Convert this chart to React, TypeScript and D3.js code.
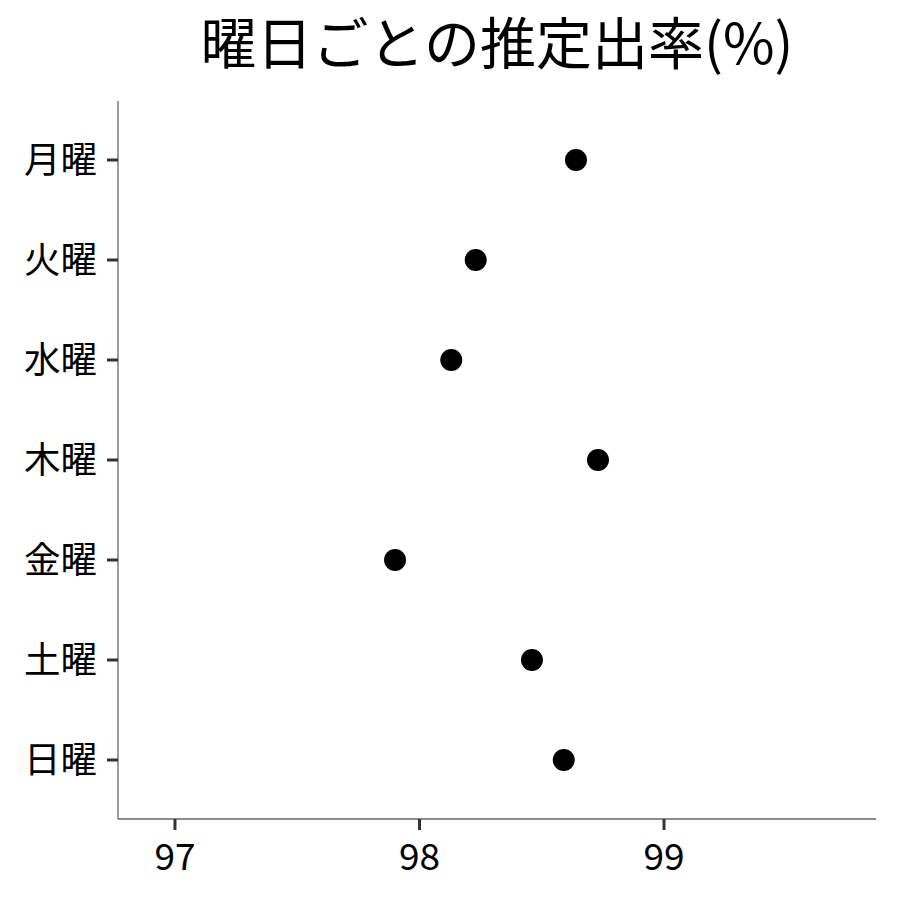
import { scaleLinear, scalePoint } from 'd3'

const days = ['月曜', '火曜', '水曜', '木曜', '金曜', '土曜', '日曜']
const rates = [98.64, 98.23, 98.13, 98.73, 97.9, 98.46, 98.59]
const xTicks = [97, 98, 99]
const title = '曜日ごとの推定出率(%)'

const W = 900
const H = 900
const left = 118
const right = 876
const top = 101
const bottom = 819
const font = '"Noto Sans CJK JP", "Noto Sans", sans-serif'

export default function App() {
  const x = scaleLinear().domain([96.767, 99.867]).range([left, right])
  const y = scalePoint<string>().domain(days).range([160, 760])

  return (
    <svg
      width={W}
      height={H}
      style={{ position: 'absolute', left: 0, top: 0, background: '#fff' }}
      fontFamily={font}
    >
      <text x={(left + right) / 2} y={64} textAnchor="middle" fontSize={56} fill="#000">
        {title}
      </text>

      {/* axes */}
      <line x1={left} x2={left} y1={top} y2={bottom} stroke="#666" strokeWidth={1.3} />
      <line x1={left} x2={right} y1={bottom} y2={bottom} stroke="#666" strokeWidth={1.3} />

      {days.map((d) => (
        <g key={d}>
          <line x1={left - 11} x2={left} y1={y(d)} y2={y(d)} stroke="#333" strokeWidth={3} />
          <text x={left - 21} y={y(d)!} dy="0.36em" textAnchor="end" fontSize={36.5} fill="#000">
            {d}
          </text>
        </g>
      ))}

      {xTicks.map((t) => (
        <g key={t}>
          <line x1={x(t)} x2={x(t)} y1={bottom} y2={bottom + 11} stroke="#333" strokeWidth={3} />
          <text x={x(t)} y={bottom + 51} textAnchor="middle" fontSize={37} fill="#000">
            {t}
          </text>
        </g>
      ))}

      {days.map((d, i) => (
        <circle key={d} cx={x(rates[i])} cy={y(d)} r={11} fill="#000" />
      ))}
    </svg>
  )
}
